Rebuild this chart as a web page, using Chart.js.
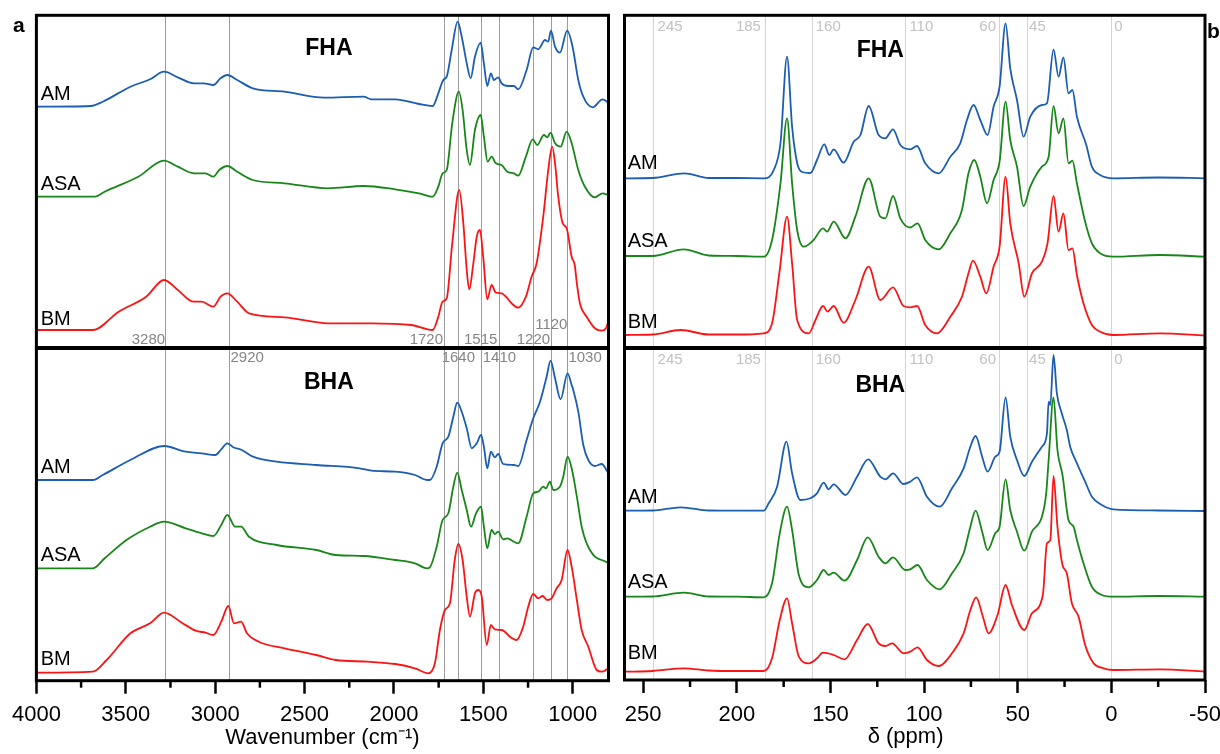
<!DOCTYPE html>
<html>
<head>
<meta charset="utf-8">
<script src="https://cdn.jsdelivr.net/npm/chart.js@4.4.1/dist/chart.umd.min.js"></script>
<style>
  html, body { margin: 0; padding: 0; background: #fff; overflow: hidden; width: 1220px; height: 754px; }
  .panel { position: absolute; }
  .tag { position: absolute; font: bold 21px Arial, "Liberation Sans", sans-serif; line-height: 23px; }
</style>
</head>
<body>
<div class="panel" style="left:0;top:0;width:612px;height:352px"><canvas id="irTop"></canvas></div>
<div class="panel" style="left:614px;top:0;width:616px;height:352px"><canvas id="nmrTop"></canvas></div>
<div class="panel" style="left:0;top:340px;width:612px;height:415px"><canvas id="irBottom"></canvas></div>
<div class="panel" style="left:614px;top:340px;width:616px;height:414px"><canvas id="nmrBottom"></canvas></div>
<div class="tag" style="left:13px;top:13px">a</div>
<div class="tag" style="left:1207px;top:19px">b</div>
<script>
const FONT = 'Arial, "Liberation Sans", Helvetica, sans-serif';

// FTIR, wavenumber (cm-1) vs absorbance (stacked, arbitrary units)
const fhaIrAM = [[4000,239.3],[3695,240],[3629,244.3],[3474,259.3],[3364,266.7],[3286,274.3],[3209,268.7],[3120,262.7],[3065,262.7],[3010,261],[2970,267.7],[2932,271],[2877,266],[2789,257.7],[2612,254.3],[2391,248.3],[2170,249.3],[2126,246.7],[1993,246.7],[1860,242],[1783,240],[1752,252.7],[1724,266],[1705,269.3],[1677,296],[1644,324.3],[1621,309.3],[1593,282.7],[1571,267.7],[1547,289.3],[1515,303.3],[1497,282.7],[1478,260],[1458,272.7],[1441,266],[1417,268.7],[1398,262.7],[1361,260],[1329,260],[1305,256.7],[1258,276],[1221,298.7],[1193,296.7],[1155,306],[1137,304.3],[1122,315.3],[1099,299.3],[1072,293.3],[1031,315.3],[1001,299.3],[969,266],[941,249.3],[889,238.7],[833,246.7],[801,243.3]];
const fhaIrASA = [[4000,149.3],[3672,149.3],[3618,154.3],[3430,169.3],[3286,185.3],[3209,179.3],[3120,172.7],[3054,172.7],[3010,169.3],[2977,176],[2932,180],[2877,174.3],[2789,166],[2612,162.7],[2369,157.7],[2170,160],[1993,156.7],[1860,152.7],[1783,149.3],[1752,159.3],[1728,172.7],[1705,176],[1674,222.7],[1637,254.3],[1616,236],[1593,196],[1575,181],[1547,216],[1515,231],[1497,209.3],[1476,184.3],[1454,189.3],[1430,182.7],[1398,181],[1366,174.3],[1329,172.7],[1305,170.3],[1262,189.3],[1224,206.7],[1199,201],[1161,211],[1143,208.7],[1124,213.3],[1099,202.7],[1068,199.3],[1034,214.3],[1006,202.7],[969,176],[932,159.3],[876,148.7],[833,152.7],[801,151]];
const fhaIrBM = [[4000,16],[3684,16],[3540,34.3],[3386,49.3],[3286,66],[3209,56],[3120,44.3],[3076,44.3],[3010,39.3],[2970,49.3],[2932,52.7],[2877,44.3],[2811,32.7],[2612,28.7],[2369,22.7],[2126,22.7],[1904,21],[1783,16],[1752,29.3],[1728,44.3],[1705,47.7],[1674,102.7],[1635,156],[1612,122.7],[1593,76],[1579,56.7],[1556,82.7],[1537,109.3],[1519,116],[1501,89.3],[1478,46.7],[1454,61],[1430,53.3],[1398,52.7],[1370,48.7],[1342,42.7],[1305,38.3],[1262,49.3],[1230,69.3],[1202,82.7],[1165,129.3],[1137,176],[1115,199.3],[1099,182.7],[1081,149.3],[1056,122.7],[1034,117.7],[1006,89.3],[989,81],[977,62.7],[960,42.7],[922,29.3],[876,17.7],[838,15.3],[814,17.7],[801,24.3]];

const bhaIrAM = [[4000,201],[3684,201],[3629,206],[3474,221],[3286,235],[3165,229.3],[3076,227.7],[2999,226],[2966,231.7],[2932,237.7],[2899,233.7],[2851,231],[2789,224.3],[2656,219.3],[2435,216],[2192,212.7],[2126,210.3],[1993,209.3],[1883,206],[1816,201],[1799,201],[1761,214.3],[1728,237.7],[1696,244.3],[1668,264.3],[1646,278.3],[1621,269.3],[1593,252.7],[1565,232.7],[1537,237.7],[1513,246],[1497,234.3],[1478,212.7],[1458,229.3],[1436,223.7],[1417,227],[1389,217],[1329,216],[1305,215],[1258,241],[1221,262.7],[1183,279.3],[1146,304.3],[1124,320.3],[1099,302.7],[1068,281.7],[1029,307.7],[1006,296],[997,291],[969,269.3],[941,236],[913,221],[876,215],[838,217],[801,207.7]];
const bhaIrASA = [[4000,112.7],[3684,112.7],[3618,122.7],[3496,141],[3364,154.3],[3286,159.3],[3165,152.7],[3076,147.7],[3010,145],[2966,156],[2932,166],[2888,154.3],[2855,154.3],[2811,144.3],[2656,136],[2435,131],[2325,126],[2170,125],[1993,121],[1883,117.7],[1816,112.7],[1799,113.7],[1761,134.3],[1728,161],[1696,167.7],[1668,194.3],[1646,208.3],[1621,191],[1593,171],[1569,154.3],[1541,167.7],[1513,174.3],[1497,154.3],[1478,132.7],[1454,151],[1436,147],[1417,149.3],[1389,141.7],[1366,142.7],[1329,139.3],[1305,137.7],[1258,164.3],[1221,187.7],[1193,189.3],[1165,194.3],[1150,192.7],[1128,199.3],[1109,191],[1072,194.3],[1053,204.3],[1029,224.3],[1006,212.7],[977,184.3],[950,154.3],[922,137.7],[876,124.3],[838,121],[801,118.3]];
const bhaIrBM = [[4000,8.3],[3684,9.3],[3607,21],[3474,47.7],[3364,57.7],[3286,68.3],[3187,58.3],[3109,50.3],[3054,48.3],[3010,46],[2966,59.3],[2926,75],[2895,57.7],[2855,59.3],[2822,47.7],[2756,39.3],[2612,32.7],[2435,26],[2325,21],[2148,19.3],[1993,17],[1883,12.7],[1808,7.7],[1771,17.7],[1743,51],[1715,71],[1687,77.7],[1660,121],[1640,137],[1616,121],[1593,84.3],[1575,64.3],[1547,87.7],[1528,91],[1509,84.3],[1481,36],[1458,56],[1436,51.7],[1398,51],[1380,49.3],[1352,44.3],[1314,41],[1277,54.3],[1249,74.3],[1221,87],[1193,82.7],[1169,85],[1143,81],[1118,82.7],[1090,92.7],[1062,101],[1029,131],[1006,114.3],[977,81],[950,51],[913,34.3],[866,11],[838,9.3],[801,12.7]];

// 13C NMR, chemical shift (ppm) vs intensity (stacked, arbitrary units)
const fhaNmrAM = [[260,168.7],[245,169],[228,173.7],[215,169],[200,169],[185.6,168.7],[180.3,177],[176.7,204],[173.2,290.3],[170.5,220.3],[167.8,184],[165.2,175],[160.7,174],[157.2,187],[153.3,202.7],[150.6,192],[148.3,197.7],[143,184.3],[137.6,205.3],[134,212],[129.6,241],[124.3,212],[120.7,208.7],[116.6,217.7],[112.7,202],[107.4,197.7],[103.8,201],[99.4,183.7],[92.2,173.7],[86,190.3],[80.7,203.7],[77.1,227],[73.6,242],[70,227],[66.1,212],[62.9,240.3],[59.7,260.3],[56.5,323.7],[54,278.7],[50.4,247],[46.9,210.3],[43.3,230.3],[37.1,242],[34.4,243.7],[30.9,297.7],[28.2,270.3],[25.6,289.7],[22.9,253.7],[20.8,257],[18.4,230.3],[13.4,202],[10.4,180.3],[6,172],[-1,168.7],[-25,169.5],[-50,168.7]];
const fhaNmrASA = [[260,91],[245,91],[228.3,97.7],[215,91.5],[200,91],[185.6,90.3],[181.2,107],[176.7,163.7],[173.2,228.7],[170.5,163.7],[167.8,117],[164.3,100.3],[159,107],[154,118.7],[151.8,115.3],[148.3,125.3],[142,108.7],[136.7,130.3],[129.6,168.7],[123.4,130.3],[120.7,128.7],[116.6,151],[112.7,128.7],[107.4,119.5],[103.5,123.7],[99.4,107],[92.2,97.7],[86,113.7],[79.8,137],[76.3,173.7],[73.2,187],[70,170.3],[66.4,143.7],[62.9,167],[59.7,185.3],[56.5,245.3],[54,207],[50.4,180.3],[46.9,141],[43.3,160.3],[37.1,180.3],[33.5,190.3],[30.9,241],[28.2,213.7],[25.6,228.7],[22.9,183.7],[20.8,186.3],[18.4,163.7],[14,125.3],[10.4,103.7],[6,93.7],[-1,90.3],[-26,92],[-50,90.3]];
const fhaNmrBM = [[260,12],[245,12.5],[230,17],[215,12.5],[200,12.5],[185.6,13.7],[181.2,23.7],[177.1,77],[173.2,130.3],[170.5,83.7],[167.8,27],[161.6,13.7],[158,27],[154,41],[151.5,35.3],[148.3,41],[143,24.3],[136.7,47],[129.6,80.3],[123.4,47],[116.6,59.7],[111,41],[107.4,39.7],[103.7,41],[99.4,22],[93.1,13.7],[86,30.3],[79.8,50.3],[76.3,73.7],[73.9,86.3],[70,70.3],[66.8,53.7],[62.9,80.3],[59.7,100.3],[56.5,170.3],[54,123.7],[49.5,83.7],[46.5,50.3],[42.4,73.7],[37.1,85.3],[34.1,103.7],[30.9,151],[28.2,115.3],[25.6,133.7],[22.9,97],[20.8,98.7],[18.4,72],[14.9,43.7],[10.4,22],[6,15.3],[-1,12],[-26,13.7],[-50,11.5]];

const bhaNmrAM = [[260,169.3],[245,169.5],[230,172.7],[215,169.5],[200,169.3],[185.6,169.3],[183,176.7],[178.5,193.3],[173.5,238.3],[170.5,206.7],[166.1,180],[160.7,181.7],[157.2,186.7],[153.6,197.3],[151,190.7],[148.3,195.7],[142,185],[135.8,203.3],[129.9,220.7],[123.4,203.3],[120.7,200.7],[116.6,206.7],[111,196],[107.4,198.3],[103.8,202.7],[98.5,183.3],[91.7,173.3],[85.1,191.7],[78.9,211.7],[75.3,233.3],[72.5,244],[69,223.3],[66.1,208.3],[62,223.3],[59.7,228.3],[56.5,282.7],[54,243.3],[50.4,220],[46.5,204],[42.4,218.3],[37.1,233.3],[34.4,246.7],[33.5,278.3],[32.6,275],[30.9,325],[29.1,286.7],[26.5,266.7],[23.8,250],[22,233.3],[18.4,216.7],[14,198.3],[10.4,183.3],[5.1,175],[-1,170.7],[-25,169.5],[-50,169]];
const bhaNmrASA = [[260,83.3],[245,83.5],[228.3,87.3],[215,83.5],[200,83.3],[185.6,82.7],[181.2,96.7],[177.1,146.7],[173.2,173.3],[170.5,150],[166.9,105],[161.6,92.7],[157.2,100],[153.6,110],[151,105],[148.3,107.3],[142.5,99.3],[135.8,120],[130.1,142.7],[124.3,123.3],[120.7,116.7],[116.6,122.7],[110,110],[107.4,110.7],[103.5,115],[98.5,100],[91.7,90.7],[85.1,106.7],[78.9,126.7],[75.3,153.3],[72.5,169.3],[69,148.3],[66.1,130],[62,146.7],[59.7,153.3],[56.5,200.7],[54,170],[50.4,148.3],[46.5,129.3],[42.4,148.3],[37.1,163.3],[34.8,186.7],[33.5,220],[30.9,282.7],[28.8,230],[26.1,205],[22.9,160],[20.2,153.3],[18.4,140],[14.9,116.7],[10.4,93.3],[5.1,85],[-1,83.3],[-25,84],[-50,83.3]];
const bhaNmrBM = [[260,8.3],[245,9],[228.3,11.7],[215,9.5],[200,9],[185.6,9],[181.2,21.7],[177.1,60],[173.2,81.7],[170.5,56.7],[166.9,23.3],[161.6,16.7],[157.2,21.7],[154,27.3],[148.3,25],[142.5,20.7],[135.8,40],[130.1,56],[124.3,36.7],[120.7,34],[117.1,36.7],[111,26.7],[107.4,28.3],[103.5,32.7],[98.5,20],[92.2,14],[85.1,26.7],[78.9,46.7],[75.3,70],[72.2,82.7],[68.6,63.3],[65.6,46.7],[60.8,65],[56.5,95],[53.1,75],[46.5,50],[42.4,66.7],[36.6,85],[34.4,136.7],[32.6,140],[30.9,204],[28.8,153.3],[26.1,115],[23.8,106.7],[21.1,76.7],[17.5,63.3],[14,35],[9.5,16.7],[4.2,11.7],[-1,10],[-26,10.7],[-50,8.3]];

// marked band positions
const irLines = [3280, 2920, 1720, 1640, 1515, 1410, 1220, 1120, 1030];
const irLabelsTop = [3280, 1720, 1515, 1220, 1120];
const irLabelsBottom = [2920, 1640, 1410, 1030];
const nmrLines = [245, 185, 160, 110, 60, 45, 0];

// axis ticks
const irMajorTicks = [4000, 3500, 3000, 2500, 2000, 1500, 1000];
const irMinorTicks = [3750, 3250, 2750, 2250, 1750, 1250];
const nmrMajorTicks = [250, 200, 150, 100, 50, 0, -50];
const nmrMinorTicks = [225, 175, 125, 75, 25, -25];

const seriesNames = ['AM', 'ASA', 'BM'];
const COLORS = { AM: '#1b5db0', ASA: '#188618', BM: '#fa1414' };

Chart.defaults.font.family = FONT;
Chart.defaults.color = '#000';

const toPts = arr => arr.map(([x, y]) => ({ x, y }));

function datasets(arrs) {
  return arrs.map((arr, i) => ({
    label: seriesNames[i],
    data: toPts(arr),
    borderColor: COLORS[seriesNames[i]],
    borderWidth: 1.8,
    pointRadius: 0,
    fill: false,
    cubicInterpolationMode: 'monotone'
  }));
}

const panelPlugin = {
  id: 'panel',
  beforeDatasetsDraw(chart, args, o) {
    const { ctx, chartArea: a, scales: { x, y } } = chart;
    ctx.save();
    ctx.lineWidth = 1;
    ctx.strokeStyle = o.lineColor;
    o.lines.forEach(v => {
      const px = Math.round(x.getPixelForValue(v)) + 0.5;
      ctx.beginPath();
      ctx.moveTo(px, a.top);
      ctx.lineTo(px, a.bottom);
      ctx.stroke();
    });
    ctx.font = '15px ' + FONT;
    ctx.fillStyle = o.labelColor;
    ctx.textBaseline = 'middle';
    o.labels.forEach(l => {
      ctx.textAlign = l.align;
      ctx.fillText(String(l.v), x.getPixelForValue(l.v) + l.dx, y.getPixelForValue(l.y));
    });
    ctx.restore();
  },
  afterDatasetsDraw(chart, args, o) {
    const { ctx, chartArea: a, scales: { x, y } } = chart;
    ctx.save();
    ctx.fillStyle = '#000';
    ctx.textBaseline = 'middle';
    ctx.textAlign = 'left';
    ctx.font = '20px ' + FONT;
    o.names.forEach((n, i) => ctx.fillText(seriesNames[i], x.getPixelForValue(o.nameX), y.getPixelForValue(n)));
    ctx.textAlign = 'center';
    ctx.font = 'bold 23px ' + FONT;
    ctx.fillText(o.title.text, x.getPixelForValue(o.title.x), y.getPixelForValue(o.title.y));
    // minor ticks
    ctx.strokeStyle = '#000';
    ctx.lineWidth = 2.5;
    (o.minor || []).forEach(v => {
      const px = x.getPixelForValue(v);
      ctx.beginPath();
      ctx.moveTo(px, a.bottom);
      ctx.lineTo(px, a.bottom + 7);
      ctx.stroke();
    });
    // frame
    ctx.lineWidth = 3;
    ctx.strokeRect(a.left, a.top, a.right - a.left, a.bottom - a.top);
    ctx.restore();
  }
};

function makeChart(id, cfg) {
  const xAxis = {
    type: 'linear',
    min: cfg.xMin, max: cfg.xMax, reverse: true,
    display: cfg.showAxis
  };
  if (cfg.showAxis) {
    Object.assign(xAxis, {
      afterBuildTicks: axis => { axis.ticks = cfg.major.map(v => ({ value: v })); },
      ticks: { font: { size: 22, lineHeight: '43px' }, padding: 0, maxRotation: 0, autoSkip: false, color: '#000', callback: v => String(v) },
      grid: { display: true, drawOnChartArea: false, drawTicks: true, tickLength: 13, tickWidth: 2.5, tickColor: '#000' },
      border: { display: false },
      title: { display: true, text: cfg.axisTitle, font: { size: 22, lineHeight: '2px' }, padding: { top: 0, bottom: 0 }, color: '#000' }
    });
  }
  return new Chart(document.getElementById(id), {
    type: 'line',
    data: { datasets: datasets(cfg.series) },
    options: {
      responsive: true,
      maintainAspectRatio: false,
      animation: false,
      events: [],
      layout: { padding: cfg.padding },
      scales: {
        x: xAxis,
        y: { type: 'linear', min: cfg.yMin, max: cfg.yMax, display: false }
      },
      plugins: {
        legend: { display: false },
        tooltip: { enabled: false },
        panel: {
          lines: cfg.lines, lineColor: cfg.lineColor, labelColor: cfg.labelColor,
          labels: cfg.labels, names: cfg.names, nameX: cfg.nameX,
          title: cfg.title, minor: cfg.minor
        }
      }
    },
    plugins: [panelPlugin]
  });
}

const irAlignTop = { 3280: ['right', 0, 6], 1720: ['right', -1, 6], 1515: ['center', 0, 6], 1220: ['center', 0, 6], 1120: ['center', 0, 21] };
const irAlignBottom = { 2920: ['left', 1, 323], 1640: ['center', 0, 323], 1410: ['center', 0, 323], 1030: ['left', 1, 323] };
const nmrAlign = { 245: ['left', 5], 185: ['right', -4], 160: ['left', 4], 110: ['left', 4], 60: ['right', -3], 45: ['left', 2], 0: ['left', 3] };

const lbl = (vals, map) => vals.map(v => ({ v, align: map[v][0], dx: map[v][1], y: map[v][2] }));
const nmrLbl = vals => vals.map(v => ({ v, align: nmrAlign[v][0], dx: nmrAlign[v][1], y: 320 }));

makeChart('irTop', {
  series: [fhaIrAM, fhaIrASA, fhaIrBM], xMin: 800, xMax: 4000, yMin: -1.5, yMax: 330.7,
  padding: { left: 36.4, right: 3.5, top: 15.3, bottom: 4.5 }, showAxis: false,
  lines: irLines, lineColor: '#9c9c9c', labelColor: '#858585', labels: lbl(irLabelsTop, irAlignTop),
  names: [251.5, 162, 27], nameX: 3976, title: { text: 'FHA', x: 2364, y: 297.5 }
});
makeChart('irBottom', {
  series: [bhaIrAM, bhaIrASA, bhaIrBM], xMin: 800, xMax: 4000, yMin: 0.3, yMax: 332.5,
  padding: { left: 36.4, right: 3.5, top: 8.5, bottom: 16.3 }, showAxis: true,
  major: irMajorTicks, minor: irMinorTicks, axisTitle: 'Wavenumber (cm\u207B\u00B9)',
  lines: irLines, lineColor: '#9c9c9c', labelColor: '#858585', labels: lbl(irLabelsBottom, irAlignBottom),
  names: [213.2, 125.5, 21.3], nameX: 3976, title: { text: 'BHA', x: 2364, y: 298 }
});
makeChart('nmrTop', {
  series: [fhaNmrAM, fhaNmrASA, fhaNmrBM], xMin: -50, xMax: 260, yMin: -0.5, yMax: 331.7,
  padding: { left: 10.5, right: 25, top: 15.3, bottom: 4.5 }, showAxis: false,
  lines: nmrLines, lineColor: '#d4d4d4', labelColor: '#c2c2c2', labels: nmrLbl(nmrLines),
  names: [183.3, 106, 25], nameX: 258.3, title: { text: 'FHA', x: 123.4, y: 296.5 }
});
makeChart('nmrBottom', {
  series: [bhaNmrAM, bhaNmrASA, bhaNmrBM], xMin: -50, xMax: 260, yMin: 0, yMax: 331.5,
  padding: { left: 10.5, right: 25, top: 8.5, bottom: 16 }, showAxis: true,
  major: nmrMajorTicks, minor: nmrMinorTicks, axisTitle: '\u03B4 (ppm)   ',
  lines: nmrLines, lineColor: '#d4d4d4', labelColor: '#c2c2c2', labels: nmrLbl(nmrLines),
  names: [183, 98, 26.3], nameX: 258.3, title: { text: 'BHA', x: 123.4, y: 294 }
});
</script>
</body>
</html>
